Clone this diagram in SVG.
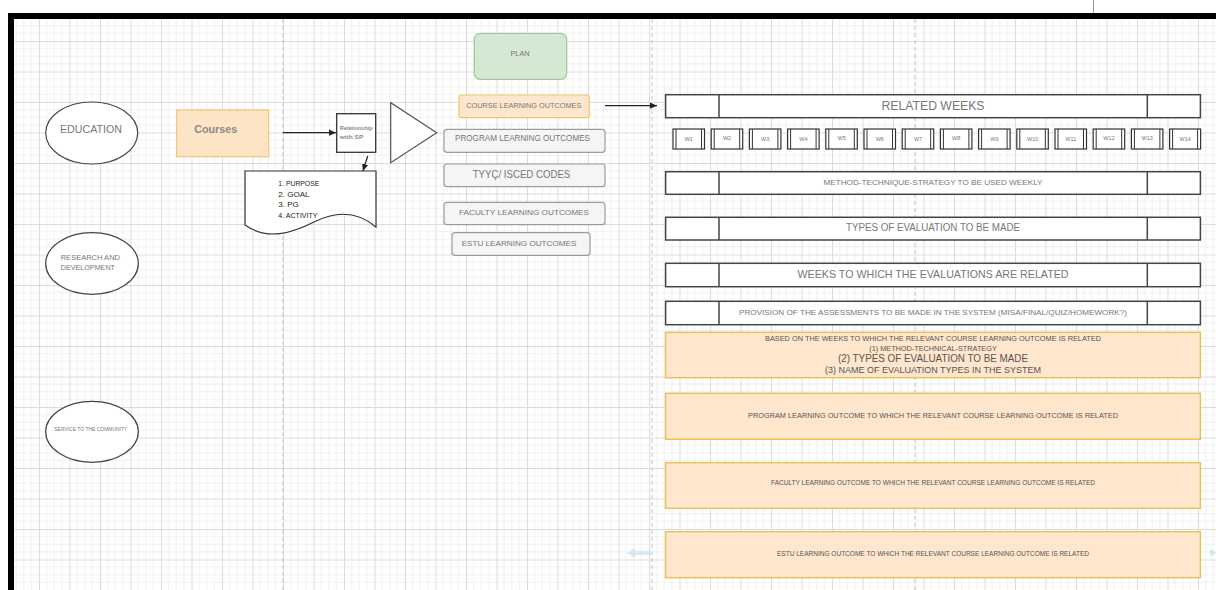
<svg xmlns="http://www.w3.org/2000/svg" width="1216" height="590" viewBox="0 0 1216 590">
<style>
text{font-family:"Liberation Sans",Arial,sans-serif;text-anchor:middle;dominant-baseline:central}
text.s{text-anchor:start}
.oval{fill:#fff;stroke:#444;stroke-width:1.2}
.gbox{fill:#f5f5f5;stroke:#9c9c9c;stroke-width:1.2}
.obox{fill:#ffe6cc;stroke:#f0c56e;stroke-width:1.2}
.bar{fill:#fff;stroke:#444;stroke-width:1.5}
.bar line{stroke:#444;stroke-width:1.5}
.obar{fill:#ffe6cc;stroke:#e8c458;stroke-width:1.5}
.t{fill:#777}
.wk{fill:#fff;stroke:#333;stroke-width:1.2}
.wl{stroke:#333;stroke-width:1}
.wt{fill:#777;font-size:5.5px}
.conn{stroke:#222;stroke-width:1.2;fill:none;marker-end:url(#arr)}
.dash{stroke:#c4c4c4;stroke-width:1;stroke-dasharray:4 3;fill:none}
</style>
<defs>
<pattern id="grid" x="8.5" y="10.5" width="30.5" height="30.5" patternUnits="userSpaceOnUse">
<path d="M7.625 0V30.5M15.25 0V30.5M22.875 0V30.5M0 7.625H30.5M0 15.25H30.5M0 22.875H30.5" stroke="#f0f0f0" stroke-width="1"/>
<path d="M0.5 0V30.5M0 0.5H30.5" stroke="#dcdcdc" stroke-width="1"/>
</pattern>
<marker id="arr" viewBox="0 0 10 10" refX="10" refY="5" markerWidth="7" markerHeight="7" markerUnits="userSpaceOnUse" orient="auto">
<path d="M0,0.5 L10,5 L0,9.5 z" fill="#222"/>
</marker>
</defs>
<rect width="1216" height="590" fill="#fff"/>
<rect x="14" y="19" width="1202" height="571" fill="url(#grid)"/>
<path d="M11 590V16H1216" fill="none" stroke="#000" stroke-width="6"/>
<line x1="1093.5" y1="0" x2="1093.5" y2="13" stroke="#999" stroke-width="1"/>
<g id="guides">
<line class="dash" x1="283" y1="19" x2="283" y2="590"/>
<line class="dash" x1="652" y1="19" x2="652" y2="590" stroke="#d3dde6"/>
<line class="dash" x1="915" y1="19" x2="915" y2="590"/>
<path d="M627 553 L635 548 V551 H653 V555 H635 V558 Z" fill="#cfe2f3" opacity="0.8"/>
<path d="M1216 553 L1210 549 V557 Z" fill="#cfe2f3" opacity="0.8"/>
</g>

<g id="education"><ellipse class="oval" cx="91.7" cy="133" rx="46" ry="31"/><text class="t" x="91" y="129" font-size="10.5" textLength="62" lengthAdjust="spacingAndGlyphs">EDUCATION</text></g>
<g id="research"><ellipse class="oval" cx="92" cy="263.5" rx="46.3" ry="30.8"/><text class="t s" x="60.7" y="257.3" font-size="7.5" textLength="59.3" lengthAdjust="spacingAndGlyphs">RESEARCH AND</text><text class="t s" x="60.7" y="267" font-size="7.5" textLength="54.3" lengthAdjust="spacingAndGlyphs">DEVELOPMENT</text></g>
<g id="service"><ellipse class="oval" cx="92" cy="431.8" rx="46.3" ry="30.5"/><text class="t" x="90.8" y="428.7" font-size="5" textLength="73" lengthAdjust="spacingAndGlyphs">SERVICE TO THE COMMUNITY</text></g>

<g id="courses"><rect x="176.7" y="110" width="92" height="46.7" fill="#fde4c4" stroke="#f0c47e" stroke-width="1.2"/><text x="215.7" y="129.3" font-size="11" font-weight="bold" fill="#8a8a8a" textLength="43" lengthAdjust="spacingAndGlyphs">Courses</text></g>
<g id="relationship"><rect x="336.7" y="113.7" width="39" height="38.6" fill="#fff" stroke="#333" stroke-width="1.3"/><text class="s" x="339.7" y="128.3" font-size="5.5" font-weight="bold" fill="#8a8a8a" textLength="33" lengthAdjust="spacingAndGlyphs">Relationship</text><text class="s" x="339.7" y="136.7" font-size="5.5" font-weight="bold" fill="#8a8a8a" textLength="23.6" lengthAdjust="spacingAndGlyphs">with SP</text></g>
<g id="document"><path d="M245 171H376V227C356 210 334 212 314 222C292 233 268 241 245 225Z" fill="#fff" stroke="#333" stroke-width="1.2"/>
<g fill="#222" font-size="8"><text class="s" x="278.3" y="183.3" textLength="41" lengthAdjust="spacingAndGlyphs">1. PURPOSE</text><text class="s" x="278.3" y="194">2. GOAL</text><text class="s" x="278.3" y="204.3">3. PG</text><text class="s" x="278.3" y="215" textLength="39.3" lengthAdjust="spacingAndGlyphs">4. ACTIVITY</text></g></g>
<g id="triangle"><path d="M390.7 102.7V162.7L436.7 132.7Z" fill="#fff" stroke="#555" stroke-width="1.2"/></g>

<g id="plan"><rect x="474.3" y="33.3" width="92.4" height="46" rx="6" fill="#d5e8d4" stroke="#a3c79b" stroke-width="1.2"/><text class="t" x="520" y="53.7" font-size="7.5" textLength="19" lengthAdjust="spacingAndGlyphs">PLAN</text></g>
<g id="clo"><rect class="obox" x="459" y="95" width="130.3" height="22.7" rx="3"/><text class="t" x="523.8" y="105" font-size="7.5" textLength="115" lengthAdjust="spacingAndGlyphs">COURSE LEARNING OUTCOMES</text></g>
<g id="plo"><rect class="gbox" x="444" y="129.3" width="161" height="23" rx="3"/><text class="t" x="522.5" y="138.3" font-size="8.5" textLength="135" lengthAdjust="spacingAndGlyphs">PROGRAM LEARNING OUTCOMES</text></g>
<g id="tyyc"><rect class="gbox" x="444" y="164" width="161" height="22.7" rx="3"/><text class="t" x="521.5" y="174" font-size="11" textLength="97.6" lengthAdjust="spacingAndGlyphs">TYYÇ/ ISCED CODES</text></g>
<g id="flo"><rect class="gbox" x="444" y="202.3" width="161" height="22.4" rx="3"/><text class="t" x="524" y="212.7" font-size="8" textLength="130" lengthAdjust="spacingAndGlyphs">FACULTY LEARNING OUTCOMES</text></g>
<g id="eslo"><rect class="gbox" x="452" y="232.7" width="138" height="22.6" rx="3"/><text class="t" x="519" y="243.3" font-size="8" textLength="114.7" lengthAdjust="spacingAndGlyphs">ESTU LEARNING OUTCOMES</text></g>

<g id="related-weeks" class="bar"><rect x="665.6" y="94.7" width="534.8" height="23"/><line x1="719" y1="94.7" x2="719" y2="117.7"/><line x1="1147.3" y1="94.7" x2="1147.3" y2="117.7"/><text class="t" x="933" y="106" font-size="12" stroke="none" textLength="103" lengthAdjust="spacingAndGlyphs">RELATED WEEKS</text></g>

<g id="weeks">
<g id="w1"><rect class="wk" x="673" y="129" width="31.5" height="20"/><path class="wl" d="M676 129V149M701.5 129V149"/><text class="wt" x="688.8" y="139">W1</text></g>
<g id="w2"><rect class="wk" x="711.2" y="129" width="31.5" height="20"/><path class="wl" d="M714.2 129V149M739.7 129V149"/><text class="wt" x="727" y="138">W2</text></g>
<g id="w3"><rect class="wk" x="749.4" y="129" width="31.5" height="20"/><path class="wl" d="M752.4 129V149M777.9 129V149"/><text class="wt" x="765.2" y="139">W3</text></g>
<g id="w4"><rect class="wk" x="787.6" y="129" width="31.5" height="20"/><path class="wl" d="M790.6 129V149M816.1 129V149"/><text class="wt" x="803.4" y="139">W4</text></g>
<g id="w5"><rect class="wk" x="825.8" y="129" width="31.5" height="20"/><path class="wl" d="M828.8 129V149M854.3 129V149"/><text class="wt" x="841.6" y="138">W5</text></g>
<g id="w6"><rect class="wk" x="864" y="129" width="31.5" height="20"/><path class="wl" d="M867 129V149M892.5 129V149"/><text class="wt" x="879.8" y="139">W6</text></g>
<g id="w7"><rect class="wk" x="902.2" y="129" width="31.5" height="20"/><path class="wl" d="M905.2 129V149M930.7 129V149"/><text class="wt" x="918" y="139">W7</text></g>
<g id="w8"><rect class="wk" x="940.4" y="129" width="31.5" height="20"/><path class="wl" d="M943.4 129V149M968.9 129V149"/><text class="wt" x="956.2" y="138">W8</text></g>
<g id="w9"><rect class="wk" x="978.6" y="129" width="31.5" height="20"/><path class="wl" d="M981.6 129V149M1007.1 129V149"/><text class="wt" x="994.4" y="139">W9</text></g>
<g id="w10"><rect class="wk" x="1016.8" y="129" width="31.5" height="20"/><path class="wl" d="M1019.8 129V149M1045.3 129V149"/><text class="wt" x="1032.6" y="139">W10</text></g>
<g id="w11"><rect class="wk" x="1055" y="129" width="31.5" height="20"/><path class="wl" d="M1058 129V149M1083.5 129V149"/><text class="wt" x="1070.8" y="139">W11</text></g>
<g id="w12"><rect class="wk" x="1093.2" y="129" width="31.5" height="20"/><path class="wl" d="M1096.2 129V149M1121.7 129V149"/><text class="wt" x="1109" y="138">W12</text></g>
<g id="w13"><rect class="wk" x="1131.4" y="129" width="31.5" height="20"/><path class="wl" d="M1134.4 129V149M1159.9 129V149"/><text class="wt" x="1147.2" y="138">W13</text></g>
<g id="w14"><rect class="wk" x="1169.6" y="129" width="31" height="20"/><path class="wl" d="M1172.6 129V149M1197.6 129V149"/><text class="wt" x="1185.1" y="139">W14</text></g>
</g>

<g id="method" class="bar"><rect x="665.6" y="171.7" width="534.8" height="22.6"/><line x1="719" y1="171.7" x2="719" y2="194.3"/><line x1="1147.3" y1="171.7" x2="1147.3" y2="194.3"/><text class="t" x="933" y="182.5" font-size="8" stroke="none" textLength="219" lengthAdjust="spacingAndGlyphs">METHOD-TECHNIQUE-STRATEGY TO BE USED WEEKLY</text></g>
<g id="types" class="bar"><rect x="665.6" y="217.3" width="534.8" height="22.7"/><line x1="719" y1="217.3" x2="719" y2="240"/><line x1="1147.3" y1="217.3" x2="1147.3" y2="240"/><text class="t" x="933" y="227" font-size="10" stroke="none" textLength="174" lengthAdjust="spacingAndGlyphs">TYPES OF EVALUATION TO BE MADE</text></g>
<g id="eval-weeks" class="bar"><rect x="665.6" y="263.3" width="534.8" height="23.4"/><line x1="719" y1="263.3" x2="719" y2="286.7"/><line x1="1147.3" y1="263.3" x2="1147.3" y2="286.7"/><text class="t" x="933" y="273.5" font-size="11" stroke="none" textLength="271" lengthAdjust="spacingAndGlyphs">WEEKS TO WHICH THE EVALUATIONS ARE RELATED</text></g>
<g id="provision" class="bar"><rect x="665.6" y="301.3" width="534.8" height="23.4"/><line x1="719" y1="301.3" x2="719" y2="324.7"/><line x1="1147.3" y1="301.3" x2="1147.3" y2="324.7"/><text class="t" x="933" y="312" font-size="7.5" stroke="none" textLength="388" lengthAdjust="spacingAndGlyphs">PROVISION OF THE ASSESSMENTS TO BE MADE IN THE SYSTEM (MISA/FINAL/QUIZ/HOMEWORK?)</text></g>

<g id="based-on"><rect class="obar" x="665.6" y="332.3" width="534.8" height="45.4"/>
<text fill="#555" x="933" y="338.3" font-size="7" textLength="336" lengthAdjust="spacingAndGlyphs">BASED ON THE WEEKS TO WHICH THE RELEVANT COURSE LEARNING OUTCOME IS RELATED</text>
<text fill="#555" x="933" y="348" font-size="6.5" textLength="127.5" lengthAdjust="spacingAndGlyphs">(1) METHOD-TECHNICAL-STRATEGY</text>
<text fill="#555" x="933" y="358" font-size="10.5" textLength="190" lengthAdjust="spacingAndGlyphs">(2) TYPES OF EVALUATION TO BE MADE</text>
<text fill="#555" x="933" y="370" font-size="9" textLength="216" lengthAdjust="spacingAndGlyphs">(3) NAME OF EVALUATION TYPES IN THE SYSTEM</text></g>
<g id="program-outcome"><rect class="obar" x="665.6" y="393.3" width="534.8" height="46"/><text fill="#555" x="933" y="415" font-size="7" textLength="370" lengthAdjust="spacingAndGlyphs">PROGRAM LEARNING OUTCOME TO WHICH THE RELEVANT COURSE LEARNING OUTCOME IS RELATED</text></g>
<g id="faculty-outcome"><rect class="obar" x="665.6" y="462.7" width="534.8" height="45.6"/><text fill="#555" x="933" y="482.7" font-size="6.5" textLength="324" lengthAdjust="spacingAndGlyphs">FACULTY LEARNING OUTCOME TO WHICH THE RELEVANT COURSE LEARNING OUTCOME IS RELATED</text></g>
<g id="estu-outcome"><rect class="obar" x="665.6" y="531.7" width="534.8" height="46"/><text fill="#555" x="933" y="553.3" font-size="6.5" textLength="312" lengthAdjust="spacingAndGlyphs">ESTU LEARNING OUTCOME TO WHICH THE RELEVANT COURSE LEARNING OUTCOME IS RELATED</text></g>

<g id="connectors">
<line class="conn" x1="283" y1="132.7" x2="336" y2="132.7"/>
<line class="conn" x1="367.7" y1="156" x2="363" y2="171"/>
<line class="conn" x1="605" y1="105.7" x2="657" y2="105.7"/>
</g>
</svg>
